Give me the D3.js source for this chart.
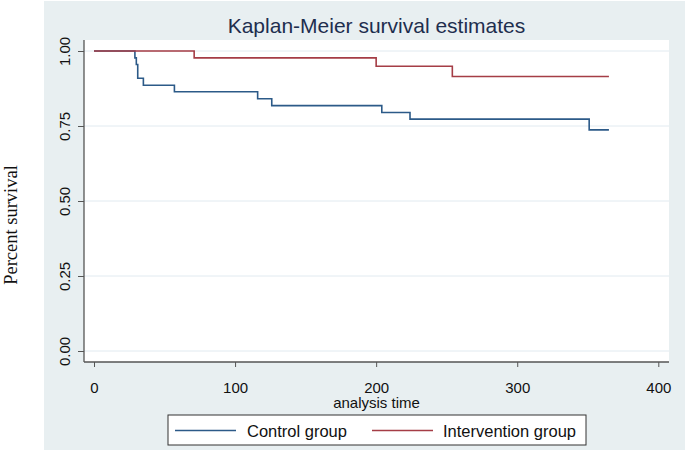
<!DOCTYPE html>
<html>
<head>
<meta charset="utf-8">
<script src="https://cdn.jsdelivr.net/npm/d3@7/dist/d3.min.js"></script>
<style>
  html, body { margin: 0; padding: 0; background: #ffffff; }
  svg { display: block; }
  text { font-family: "Liberation Sans", Arial, Helvetica, sans-serif; }
</style>
</head>
<body>
<div id="chart"></div>
<script>
// ---- Data ----
const controlTimes    = [0, 29, 30, 31, 35, 57, 116, 126, 204, 224, 351, 365];
const controlSurv     = [1.000, 0.977, 0.955, 0.909, 0.886, 0.864, 0.841, 0.818, 0.795, 0.773, 0.737, 0.737];
const interventionTimes = [0, 71, 200, 254, 365];
const interventionSurv  = [1.000, 0.977, 0.949, 0.915, 0.915];
const seriesNames = ["Control group", "Intervention group"];
const xTicks = [0, 100, 200, 300, 400];
const yTicks = [0, 0.25, 0.5, 0.75, 1];
const titleText = "Kaplan-Meier survival estimates";
const xLabel = "analysis time";
const yLabel = "Percent survival";

// ---- Layout ----
const W = 685, H = 450;
const panel = { left: 84, right: 669, top: 40, bottom: 362 };
const colors = { control: "#2c5a88", intervention: "#a53d46" };

const svg = d3.select("#chart").append("svg")
  .attr("width", W).attr("height", H);

// outer graph region
svg.append("rect").attr("x", 44).attr("y", 1).attr("width", W - 44).attr("height", H - 1)
  .attr("fill", "#e8eff1");
// plot panel
svg.append("rect").attr("x", panel.left).attr("y", panel.top)
  .attr("width", panel.right - panel.left).attr("height", panel.bottom - panel.top)
  .attr("fill", "#ffffff");

const x = d3.scaleLinear().domain([0, 400]).range([94, 658.3]);
const y = d3.scaleLinear().domain([0, 1]).range([351, 51]);

// gridlines
svg.append("g").selectAll("line").data(yTicks).join("line")
  .attr("x1", panel.left).attr("x2", panel.right)
  .attr("y1", d => y(d)).attr("y2", d => y(d))
  .attr("stroke", "#e1eaf0").attr("stroke-width", 1);

// survival curves
const line = d3.line().x(d => x(d[0])).y(d => y(d[1])).curve(d3.curveStepAfter);
const controlData = controlTimes.map((t, i) => [t, controlSurv[i]]);
const interventionData = interventionTimes.map((t, i) => [t, interventionSurv[i]]);

svg.append("path").datum(controlData).attr("d", line)
  .attr("fill", "none").attr("stroke", colors.control).attr("stroke-width", 1.6);
svg.append("path").datum(interventionData).attr("d", line)
  .attr("fill", "none").attr("stroke", colors.intervention).attr("stroke-width", 1.6);

// axes
const yAxis = d3.axisLeft(y).tickValues(yTicks).tickSize(6).tickFormat(d3.format(".2f"));
const gy = svg.append("g").attr("transform", `translate(${panel.left},0)`).call(yAxis);
gy.select(".domain").remove();
gy.selectAll(".tick line").attr("stroke", "#555");
gy.selectAll(".tick text")
  .attr("x", null).attr("dy", null).attr("y", null)
  .attr("transform", "translate(-14,0) rotate(-90)")
  .attr("text-anchor", "middle")
  .attr("font-size", 15).attr("fill", "#111")
  .style("font-family", "'Liberation Sans', Arial, sans-serif");

const xAxis = d3.axisBottom(x).tickValues(xTicks).tickSize(5).tickPadding(15);
const gx = svg.append("g").attr("transform", `translate(0,${panel.bottom})`).call(xAxis);
gx.select(".domain").remove();
gx.selectAll(".tick line").attr("stroke", "#555");
gx.selectAll(".tick text").attr("font-size", 15).attr("fill", "#111")
  .style("font-family", "'Liberation Sans', Arial, sans-serif");

// axis lines
svg.append("line").attr("x1", panel.left).attr("x2", panel.left)
  .attr("y1", panel.top).attr("y2", panel.bottom).attr("stroke", "#555").attr("stroke-width", 1.3);
svg.append("line").attr("x1", panel.left).attr("x2", panel.right)
  .attr("y1", panel.bottom).attr("y2", panel.bottom).attr("stroke", "#555").attr("stroke-width", 1.3);

// title
svg.append("text").attr("x", (panel.left + panel.right) / 2).attr("y", 33)
  .attr("text-anchor", "middle").attr("font-size", 21).attr("fill", "#1e2e4e")
  .text(titleText);

// x label
svg.append("text").attr("x", (panel.left + panel.right) / 2).attr("y", 408)
  .attr("text-anchor", "middle").attr("font-size", 15).attr("fill", "#111")
  .text(xLabel);

// y label (serif)
svg.append("text").attr("transform", "translate(17,225) rotate(-90)")
  .attr("text-anchor", "middle").attr("font-size", 18.5).attr("fill", "#111")
  .style("font-family", "'Liberation Serif', 'Times New Roman', serif")
  .text(yLabel);

// legend
const lg = svg.append("g");
lg.append("rect").attr("x", 168).attr("y", 415).attr("width", 418).attr("height", 30)
  .attr("fill", "#ffffff").attr("stroke", "#333").attr("stroke-width", 1);
const legendItems = [
  { name: seriesNames[0], color: colors.control, x1: 175, x2: 236, tx: 247 },
  { name: seriesNames[1], color: colors.intervention, x1: 372, x2: 433, tx: 443 }
];
legendItems.forEach(d => {
  lg.append("line").attr("x1", d.x1).attr("x2", d.x2).attr("y1", 430.5).attr("y2", 430.5)
    .attr("stroke", d.color).attr("stroke-width", 1.6);
  lg.append("text").attr("x", d.tx).attr("y", 437).attr("font-size", 16.5).attr("fill", "#111")
    .text(d.name);
});
</script>
</body>
</html>
